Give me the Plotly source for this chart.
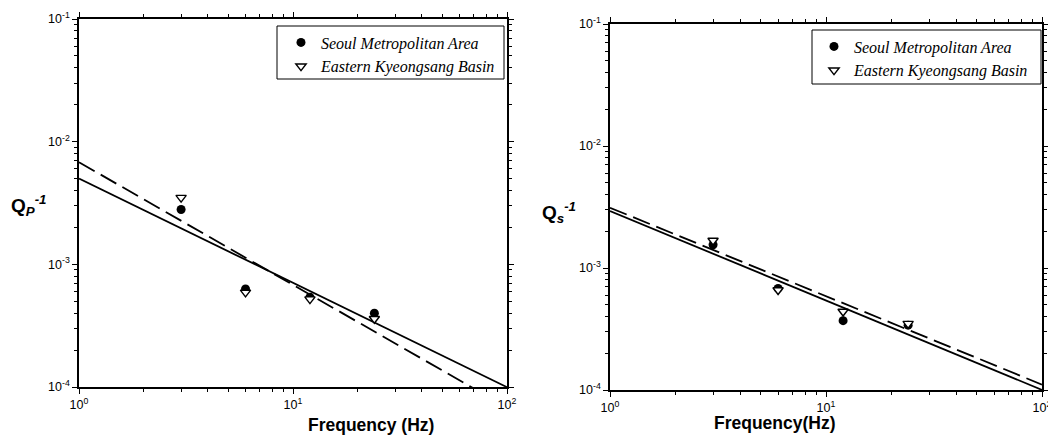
import numpy as np
import plotly.graph_objects as go

# ---- data ----
freq = [3, 6, 12, 24]                       # Hz
qp_seoul = [2.8e-3, 6.3e-4, 5.4e-4, 4.0e-4]
qp_ek = [3.5e-3, 5.9e-4, 5.2e-4, 3.6e-4]
qs_seoul = [1.55e-3, 6.8e-4, 3.7e-4, 3.4e-4]
qs_ek = [1.68e-3, 6.6e-4, 4.4e-4, 3.5e-4]

# fitted power laws Q^-1 = a * f^-n
qp_fit_solid = (5.0e-3, 0.85)
qp_fit_dash = (6.8e-3, 1.0)
qs_fit_solid = (2.93e-3, 0.733)
qs_fit_dash = (3.12e-3, 0.725)

x_ticks = [1, 10, 100]
x_ticktext = ["10<sup>0</sup>", "10<sup>1</sup>", "10<sup>2</sup>"]
y_ticks = [1e-4, 1e-3, 1e-2, 1e-1]
y_ticktext = ["10<sup>-4</sup>", "10<sup>-3</sup>", "10<sup>-2</sup>", "10<sup>-1</sup>"]
names = ["Seoul Metropolitan Area", "Eastern Kyeongsang Basin"]

# page has an 8px body margin; figure sized to fit the 1056x447 window
OFF = 8
W, H = 1056 - OFF, 447 - OFF
def px(x):
    return (x - OFF) / W
def py(y):
    return 1 - (y - OFF) / H

fgrid = np.logspace(0, 2, 60)

fig = go.Figure()

def add_panel(xa, ya, seoul, ek, solid, dash, legend):
    for (a, n), d in [(solid, "solid"), (dash, "18px,7px")]:
        fig.add_trace(go.Scatter(x=fgrid, y=a * fgrid ** (-n), mode="lines",
                                 line=dict(color="black", width=1.8, dash=d),
                                 xaxis=xa, yaxis=ya, showlegend=False, hoverinfo="skip"))
    fig.add_trace(go.Scatter(x=freq, y=seoul, mode="markers", name="<i>" + names[0] + "</i>",
                             marker=dict(symbol="circle", size=9, color="black"),
                             xaxis=xa, yaxis=ya, legend=legend))
    fig.add_trace(go.Scatter(x=freq, y=ek, mode="markers", name="<i>" + names[1] + "</i>",
                             marker=dict(symbol="triangle-down", size=9, color="white",
                                         line=dict(color="black", width=1.4)),
                             xaxis=xa, yaxis=ya, legend=legend))

add_panel("x", "y", qp_seoul, qp_ek, qp_fit_solid, qp_fit_dash, "legend")
add_panel("x2", "y2", qs_seoul, qs_ek, qs_fit_solid, qs_fit_dash, "legend2")

minor_x = [m * 10 ** k for k in range(0, 2) for m in range(2, 10)]
minor_y = [m * 10.0 ** k for k in range(-4, -1) for m in range(2, 10)]

axfont = dict(family="Liberation Sans", size=12.5, color="black")
def xax(dom, anchor):
    return dict(type="log", range=[0, 2], domain=dom, anchor=anchor, automargin=False,
                tickvals=x_ticks, ticktext=x_ticktext, ticks="outside", ticklen=5,
                tickcolor="black", tickwidth=1.2,
                showline=True, linecolor="black", linewidth=1.5, mirror="ticks",
                showgrid=False, zeroline=False, tickfont=axfont,
                minor=dict(tickvals=minor_x, ticks="outside", ticklen=3, tickcolor="black",
                           showgrid=False))
def yax(dom, anchor):
    return dict(type="log", range=[-4, -1], domain=dom, anchor=anchor, automargin=False,
                tickvals=y_ticks, ticktext=y_ticktext, ticks="outside", ticklen=5,
                tickcolor="black", tickwidth=1.2,
                showline=True, linecolor="black", linewidth=1.5, mirror="ticks",
                showgrid=False, zeroline=False, tickfont=axfont,
                minor=dict(tickvals=minor_y, ticks="outside", ticklen=3, tickcolor="black",
                           showgrid=False))

legfont = dict(family="Liberation Serif", size=16, color="black")
fig.update_layout(
    width=W, height=H, margin=dict(l=0, r=0, t=0, b=0, autoexpand=False),
    paper_bgcolor="white", plot_bgcolor="white",
    xaxis=xax([px(79), px(507)], "y"),
    yaxis=yax([py(387), py(19)], "x"),
    xaxis2=xax([px(610), px(1042)], "y2"),
    yaxis2=yax([py(390), py(24)], "x2"),
    legend=dict(x=px(281), y=py(25.5), xanchor="left", yanchor="top",
                bgcolor="rgba(0,0,0,0)", font=legfont, tracegroupgap=0),
    legend2=dict(x=px(814), y=py(29.5), xanchor="left", yanchor="top",
                 bgcolor="rgba(0,0,0,0)", font=legfont, tracegroupgap=0),
    shapes=[
        dict(type="rect", xref="paper", yref="paper", x0=px(277), x1=px(504),
             y0=py(79), y1=py(26), line=dict(color="black", width=1)),
        dict(type="rect", xref="paper", yref="paper", x0=px(812), x1=px(1041),
             y0=py(84), y1=py(30), line=dict(color="black", width=1)),
    ],
    annotations=[
        dict(text="<b>Frequency (Hz)</b>", x=px(306), y=py(437), xref="paper", yref="paper",
             showarrow=False, font=dict(family="Liberation Sans", size=17.5, color="black")),
        dict(text="<b>Frequency(Hz)</b>", x=px(838), y=py(435), xref="paper", yref="paper",
             showarrow=False, font=dict(family="Liberation Sans", size=17.5, color="black")),
        dict(text="<b>Q</b><sub><b><i>P</i></b></sub><sup><b><i>-1</i></b></sup>",
             x=px(9), y=py(205), xref="paper", yref="paper", xanchor="left",
             showarrow=False, font=dict(family="Liberation Sans", size=19, color="black")),
        dict(text="<b>Q</b><sub><b><i>s</i></b></sub><sup><b><i>-1</i></b></sup>",
             x=px(540), y=py(212), xref="paper", yref="paper", xanchor="left",
             showarrow=False, font=dict(family="Liberation Sans", size=19, color="black")),
    ],
)

fig.write_html("out.html")
